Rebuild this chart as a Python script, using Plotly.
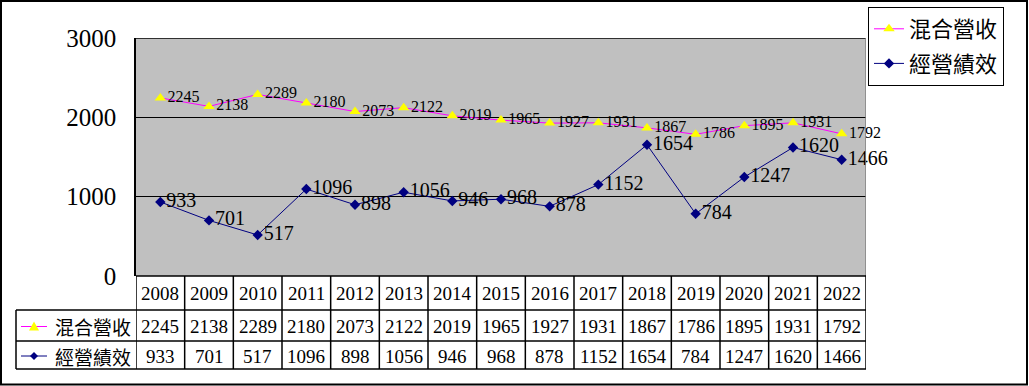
import plotly.graph_objects as go

years = [2008, 2009, 2010, 2011, 2012, 2013, 2014, 2015, 2016, 2017, 2018, 2019, 2020, 2021, 2022]
revenue = [2245, 2138, 2289, 2180, 2073, 2122, 2019, 1965, 1927, 1931, 1867, 1786, 1895, 1931, 1792]
performance = [933, 701, 517, 1096, 898, 1056, 946, 968, 878, 1152, 1654, 784, 1247, 1620, 1466]
series_names = ["混合營收", "經營績效"]
y_ticks = [0, 1000, 2000, 3000]

W, H = 1029, 386


def px(x):
    return x / W


def py(y):
    return 1 - y / H


SERIF = "Liberation Serif, Times New Roman, serif"
CJK = "Noto Sans CJK TC, sans-serif"
MAG = "#FF00FF"
YEL = "#FFFF00"
NAVY = "#000080"

idx = list(range(len(years)))

fig = go.Figure()
fig.add_trace(go.Scatter(
    x=idx, y=revenue, name=series_names[0], mode="lines+markers+text",
    line=dict(color=MAG, width=1),
    marker=dict(symbol="triangle-up", size=10, color=YEL, line=dict(width=0)),
    text=[str(v) for v in revenue], textposition="middle right",
    textfont=dict(family=SERIF, size=16, color="black"),
    legendgroup="a", cliponaxis=False,
))
fig.add_trace(go.Scatter(
    x=idx, y=performance, name=series_names[1], mode="lines+markers+text",
    line=dict(color=NAVY, width=1),
    marker=dict(symbol="diamond", size=8, color=NAVY),
    text=[str(v) for v in performance], textposition="middle right",
    textfont=dict(family=SERIF, size=20, color="black"),
    legendgroup="b", cliponaxis=False,
))

shapes = []
ann = []

# Plot borders
shapes.append(dict(type="line", xref="x", yref="y", x0=-0.5, x1=14.5, y0=3000, y1=3000,
                   line=dict(color="black", width=1.5)))
shapes.append(dict(type="line", xref="x", yref="y", x0=14.5, x1=14.5, y0=0, y1=3000,
                   line=dict(color="#808080", width=1.5)))

# Table rows (pixel positions of table lines)
row_top, row_year, row_1, row_2 = 276, 310, 341, 369
for yy in [row_top, row_year, row_1, row_2]:
    shapes.append(dict(type="line", xref="x", yref="paper", x0=-0.5, x1=14.5,
                       y0=py(yy), y1=py(yy), line=dict(color="black", width=1.5)))
for yy in [row_year, row_1, row_2]:
    shapes.append(dict(type="line", xref="paper", yref="paper", x0=px(16), x1=px(136),
                       y0=py(yy), y1=py(yy), line=dict(color="black", width=1.5)))
shapes.append(dict(type="line", xref="paper", yref="paper", x0=px(16), x1=px(16),
                   y0=py(row_year), y1=py(row_2), line=dict(color="black", width=1.5)))
for i in range(len(years) + 1):
    shapes.append(dict(type="line", xref="x", yref="paper", x0=i - 0.5, x1=i - 0.5,
                       y0=py(row_top), y1=py(row_2), line=dict(color="black", width=1.5)))

yc = [(row_top + row_year) / 2, (row_year + row_1) / 2 + 1, (row_1 + row_2) / 2 + 1]
for i, yr in enumerate(years):
    for r, val in enumerate([yr, revenue[i], performance[i]]):
        ann.append(dict(x=i, y=py(yc[r]), xref="x", yref="paper", text=str(val), showarrow=False,
                        xanchor="center", yanchor="middle",
                        font=dict(family=SERIF, size=19, color="black")))

# Row label keys
for k, (col, yy) in enumerate([(MAG, yc[1]), (NAVY, yc[2])]):
    shapes.append(dict(type="line", xref="paper", yref="paper", x0=px(21), x1=px(47),
                       y0=py(yy), y1=py(yy), line=dict(color=col, width=1)))
    ann.append(dict(x=px(53), y=py(yy), xref="paper", yref="paper", text=series_names[k],
                    showarrow=False, xanchor="left", yanchor="middle",
                    font=dict(family=CJK, size=19, color="black")))
cx, cy = 34, yc[1]
shapes.append(dict(type="path", xref="paper", yref="paper",
                   path=f"M {px(cx-5)} {py(cy+4)} L {px(cx+5)} {py(cy+4)} L {px(cx)} {py(cy-5)} Z",
                   fillcolor=YEL, line=dict(width=0)))
cx, cy = 34, yc[2]
shapes.append(dict(type="path", xref="paper", yref="paper",
                   path=f"M {px(cx-4)} {py(cy)} L {px(cx)} {py(cy-4)} L {px(cx+4)} {py(cy)} L {px(cx)} {py(cy+4)} Z",
                   fillcolor=NAVY, line=dict(width=0)))

# Outer frame
shapes.append(dict(type="rect", xref="paper", yref="paper", x0=px(1), x1=px(1027),
                   y0=py(384.5), y1=py(1), line=dict(color="black", width=2), layer="above"))

fig.update_layout(
    template="none",
    width=W, height=H, margin=dict(l=0, r=0, t=0, b=0, pad=0, autoexpand=False),
    paper_bgcolor="white", plot_bgcolor="#C0C0C0",
    font=dict(family=SERIF, color="black"),
    xaxis=dict(domain=[px(136), px(866)], range=[-0.5, 14.5], showticklabels=False,
               showgrid=False, zeroline=False, ticks="", automargin=False, showline=False),
    yaxis=dict(domain=[py(276), py(38)], range=[0, 3000], tickvals=y_ticks,
               showgrid=True, gridcolor="black", gridwidth=1, zeroline=False,
               showline=True, linecolor="black", linewidth=1.5, ticks="",
               ticklabelstandoff=13, automargin=False,
               tickfont=dict(family=SERIF, size=25, color="black")),
    showlegend=True,
    legend=dict(x=px(868), y=py(7), xanchor="left", yanchor="top",
                bordercolor="black", borderwidth=1, bgcolor="white",
                font=dict(family=CJK, size=22, color="black"),
                tracegroupgap=3, traceorder="grouped", itemwidth=30),
    shapes=shapes, annotations=ann,
)

fig.write_html("out.html", config={"displayModeBar": False},
               post_script="document.body.style.margin='0px';")
